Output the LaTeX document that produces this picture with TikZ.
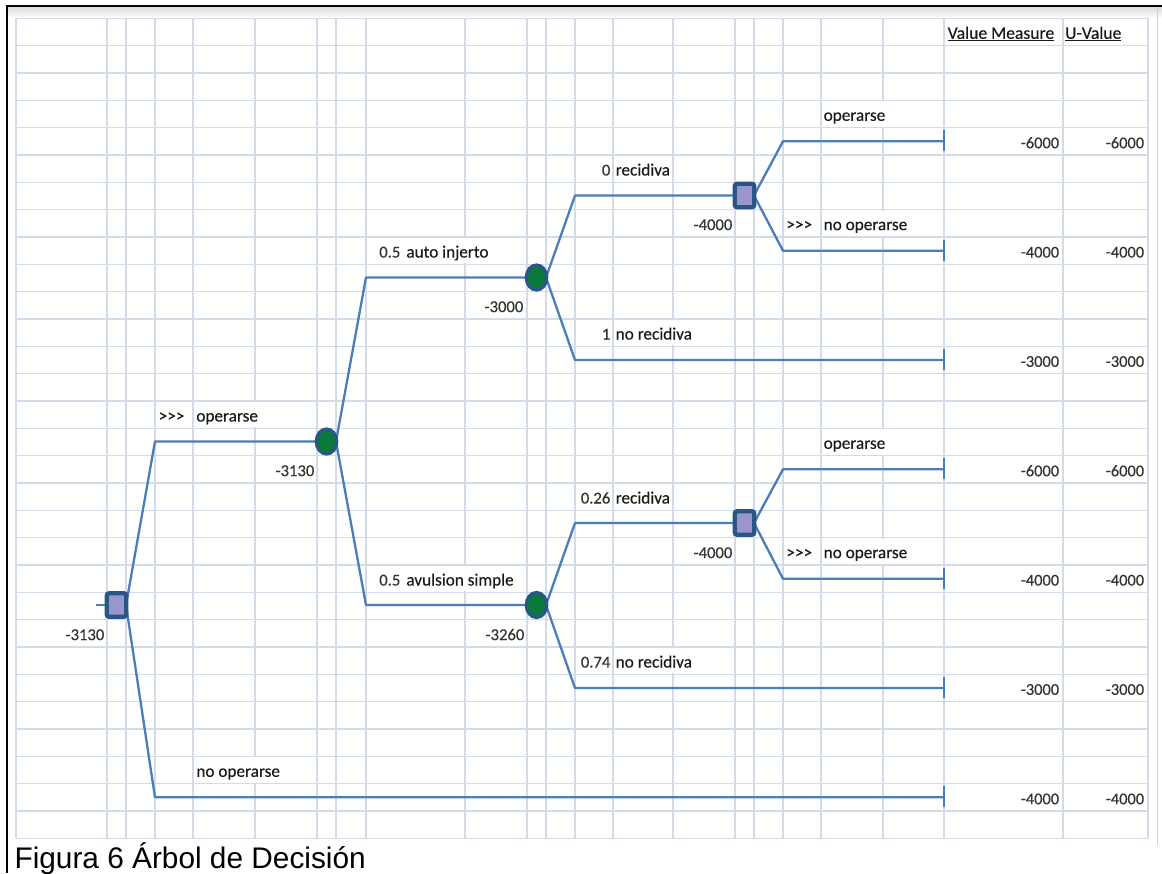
\documentclass[tikz,border=0pt]{standalone}
\usepackage{fontspec}
\setmainfont{Carlito}
\newfontfamily\lblfont{Carlito}[FakeBold=0.35]
\newfontfamily\capfont{Liberation Sans}
\usetikzlibrary{shapes.geometric}
\definecolor{gridc}{HTML}{D3DAE8}
\definecolor{edgec}{HTML}{4A7EBB}
\definecolor{nodeb}{HTML}{2A5587}
\definecolor{decf}{HTML}{9A96CC}
\definecolor{chf}{HTML}{0A7A3A}
\definecolor{txt}{HTML}{1A1A1A}
\definecolor{numc}{HTML}{333333}
\pgfdeclarelayer{gridlayer}
\pgfdeclarelayer{labellayer}
\pgfdeclarelayer{edgelayer}
\pgfsetlayers{gridlayer,labellayer,edgelayer,main}
\tikzset{
  gridline/.style={draw=gridc, line width=1.1pt},
  decision/.style={rectangle, draw=nodeb, fill=decf, line width=4.4pt, rounded corners=2.5pt,
    minimum width=19.5pt, minimum height=23.5pt, inner sep=0pt},
  chance/.style={ellipse, draw=nodeb, fill=chf, line width=3.2pt,
    minimum width=20.5pt, minimum height=25pt, inner sep=0pt},
  branch/.style={draw=edgec, line width=2.3pt, line join=round},
  endtick/.style={draw=edgec, line width=2.6pt},
  lab/.style={fill=white, inner xsep=1.5pt, inner ysep=0pt, text height=19.5pt, text depth=5.8pt,
    font=\lblfont\fontsize{17.2}{18}\selectfont, text=txt},
  labl/.style={lab, anchor=base west},
  labr/.style={lab, anchor=base east, text=numc, font=\lblfont\fontsize{16.6}{18}\selectfont},
  val/.style={inner sep=0pt, anchor=base east, font=\lblfont\fontsize{16.4}{18}\selectfont, text=numc},
  head/.style={inner sep=0pt, anchor=base west, font=\lblfont\fontsize{17.6}{18}\selectfont, text=txt},
}
\begin{document}
\begin{tikzpicture}[x=1pt,y=-1pt]
\useasboundingbox (0,0) rectangle (1162,873);
% ---------- background, frame and grid ----------
\begin{pgfonlayer}{gridlayer}
  \fill[white] (0,0) rectangle (1162,873);
  \shade[top color=black!14, bottom color=white] (8,7) rectangle (1162,18);
  \draw[black!18, line width=0.8pt] (1157,8) -- (1157,845);
  \foreach \k in {0,...,30}
    \draw[gridline] (16,{18.33+27.333*\k}) -- (1148,{18.33+27.333*\k});
  \foreach \x in {16,107,126,155,193,255,317,336,366,465,527,546,575,613,673,735,754,783,821,883,944,1063,1148}
    \draw[gridline] (\x,18.33) -- (\x,838.33);
  \draw[black, line width=2pt] (7,873) -- (7,6) -- (1162,6);
\end{pgfonlayer}
% ---------- tree nodes ----------
\node[decision] (d0) at (116.5,605) {};
\node[chance]   (c1) at (326.5,441.5) {};
\node[chance]   (c2) at (536.5,277.5) {};
\node[chance]   (c3) at (536.5,605) {};
\node[decision] (d2) at (744.5,195.5) {};
\node[decision] (d3) at (744.5,523) {};
% ---------- corners and end points ----------
\coordinate (rin) at (96,605);
\coordinate (a1) at (155,441.5);   \coordinate (a2) at (155,797.33);
\coordinate (b1) at (366,277.5);   \coordinate (b2) at (366,605);
\coordinate (e1) at (575,195.5);   \coordinate (e2) at (575,360);
\coordinate (f1) at (575,523);     \coordinate (f2) at (575,688);
\coordinate (g1) at (783,141.33);  \coordinate (g2) at (783,250.67);
\coordinate (h1) at (783,469.33);  \coordinate (h2) at (783,578.67);
\coordinate (t1) at (944,141.33);
\coordinate (t2) at (944,250.67);
\coordinate (t3) at (944,360);
\coordinate (t4) at (944,469.33);
\coordinate (t5) at (944,578.67);
\coordinate (t6) at (944,688);
\coordinate (t7) at (944,797.33);
% ---------- connectors ----------
\begin{pgfonlayer}{edgelayer}
  \draw[branch] (rin) -- (d0.center);
  \draw[branch] ([xshift=9.5pt]d0.center) -- (a1) -- (c1.center);
  \draw[branch] ([xshift=9.5pt]d0.center) -- (a2) -- (t7);
  \draw[branch] ([xshift=9.5pt]c1.center) -- (b1) -- (c2.center);
  \draw[branch] ([xshift=9.5pt]c1.center) -- (b2) -- (c3.center);
  \draw[branch] ([xshift=9.5pt]c2.center) -- (e1) -- (d2.center);
  \draw[branch] ([xshift=9.5pt]c2.center) -- (e2) -- (t3);
  \draw[branch] ([xshift=9.5pt]d2.center) -- (g1) -- (t1);
  \draw[branch] ([xshift=9.5pt]d2.center) -- (g2) -- (t2);
  \draw[branch] ([xshift=9.5pt]c3.center) -- (f1) -- (d3.center);
  \draw[branch] ([xshift=9.5pt]c3.center) -- (f2) -- (t6);
  \draw[branch] ([xshift=9.5pt]d3.center) -- (h1) -- (t4);
  \draw[branch] ([xshift=9.5pt]d3.center) -- (h2) -- (t5);
  \foreach \t in {t1,t2,t3,t4,t5,t6,t7}
    \draw[endtick] ([yshift=11pt]\t) -- ([yshift=-10pt]\t);
\end{pgfonlayer}
% ---------- labels ----------
\begin{pgfonlayer}{labellayer}
  % root branches
  \node[labl] (l1) at (157,421.5) {>{}>{}>};
  \node[labl] (l2) at (194.7,421.5) {operarse};
  \node[labl] (l3) at (194.7,776.8) {no operarse};
  \node[labr] (l4) at (106,640.1) {-3130};
  % chance 1
  \node[labr] (l5) at (316,476.1) {-3130};
  \node[labr] (l6) at (402,257.5) {0.5};
  \node[labl] (l7) at (404.7,257.5) {auto injerto};
  \node[labr] (l8) at (402,585.5) {0.5};
  \node[labl] (l9) at (404.7,585.5) {avulsion simple};
  % chance 2
  \node[labr] (l10) at (525,312.1) {-3000};
  \node[labr] (l11) at (612,175.5) {0};
  \node[labl] (l12) at (614,175.5) {recidiva};
  \node[labr] (l13) at (612,339.5) {1};
  \node[labl] (l14) at (614,339.5) {no recidiva};
  % chance 3
  \node[labr] (l15) at (526,640.1) {-3260};
  \node[labr] (l16) at (612,503.5) {0.26};
  \node[labl] (l17) at (614,503.5) {recidiva};
  \node[labr] (l18) at (612,667.5) {0.74};
  \node[labl] (l19) at (614,667.5) {no recidiva};
  % decision 2
  \node[labr] (l20) at (734,230.1) {-4000};
  \node[labl] (l21) at (822,120.8) {operarse};
  \node[labl] (l22) at (784.7,230.1) {>{}>{}>};
  \node[labl] (l23) at (822,230.1) {no operarse};
  % decision 3
  \node[labr] (l24) at (734,558.1) {-4000};
  \node[labl] (l25) at (822,448.8) {operarse};
  \node[labl] (l26) at (784.7,558.1) {>{}>{}>};
  \node[labl] (l27) at (822,558.1) {no operarse};
\end{pgfonlayer}
% ---------- value columns ----------
\node[head] (hv) at (947.5,38.8) {\underline{Value Measure}};
\node[head] (hu) at (1065,38.8) {\underline{U-Value}};
\node[val] (v1) at (1059.3,148.2) {-6000};  \node[val] (u1) at (1144.3,148.2) {-6000};
\node[val] (v2) at (1059.3,257.5) {-4000};  \node[val] (u2) at (1144.3,257.5) {-4000};
\node[val] (v3) at (1059.3,366.8) {-3000};  \node[val] (u3) at (1144.3,366.8) {-3000};
\node[val] (v4) at (1059.3,476.2) {-6000};  \node[val] (u4) at (1144.3,476.2) {-6000};
\node[val] (v5) at (1059.3,585.5) {-4000};  \node[val] (u5) at (1144.3,585.5) {-4000};
\node[val] (v6) at (1059.3,694.8) {-3000};  \node[val] (u6) at (1144.3,694.8) {-3000};
\node[val] (v7) at (1059.3,804.2) {-4000};  \node[val] (u7) at (1144.3,804.2) {-4000};
% ---------- caption ----------
\node[inner sep=0pt, anchor=base west, font=\capfont\fontsize{29.8}{32}\selectfont] (cap) at (14.4,868) {Figura 6 Árbol de Decisión};
\end{tikzpicture}
\end{document}
